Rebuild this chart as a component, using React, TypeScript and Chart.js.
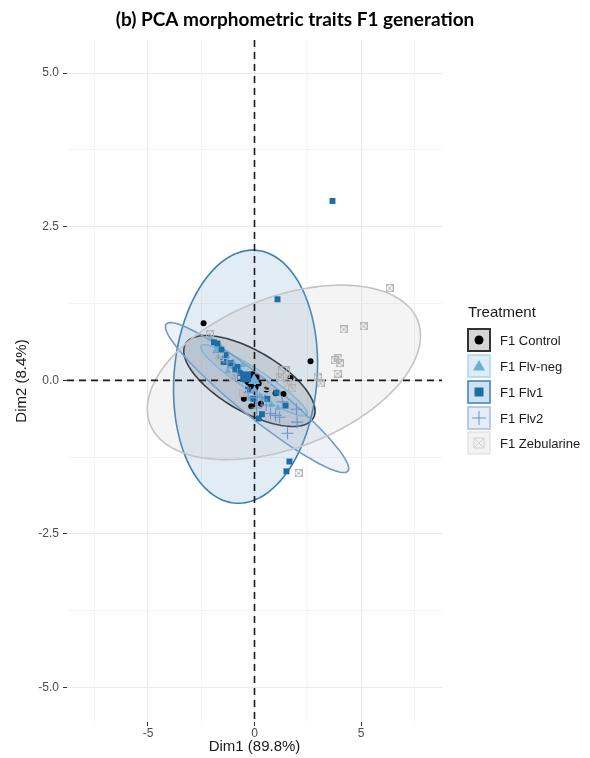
import React, { useEffect, useRef } from "react";
import { Chart, registerables } from "chart.js";

Chart.register(...registerables);

// ---- data -------------------------------------------------------------
const groupNames = ["F1 Control", "F1 Flv-neg", "F1 Flv1", "F1 Flv2", "F1 Zebularine"];

const controlPts = [
  [-2.39, 0.93], [2.63, 0.31], [1.69, 0.04], [1.36, -0.22], [0.99, -0.21], [0.55, -0.15],
  [0.3, -0.38], [-0.15, -0.42], [-0.5, -0.3], [-0.05, 0.02], [-0.15, -0.1], [0.05, -0.12],
  [-0.3, 0.05], [0.2, -0.05], [-0.1, 0.1], [0.1, 0.05],
];
const flvNegPts = [
  [-2.05, 0.68], [-1.8, 0.5], [-1.6, 0.55], [-1.5, 0.35], [-1.3, 0.4], [-1.15, 0.22],
  [-1.0, 0.3], [-0.85, 0.1], [-0.65, 0.15], [-0.45, -0.02], [-0.3, 0.08], [0.0, -0.15],
  [0.25, -0.25], [0.5, -0.28], [0.8, -0.4], [1.1, -0.45], [-0.2, -0.3], [-1.25, 0.15],
  [-0.95, 0.05], [-1.7, 0.38], [-0.55, 0.25],
];
const flv1Pts = [
  [3.66, 2.92], [1.08, 1.32], [1.64, -1.32], [1.5, -1.48], [1.46, -0.41], [1.03, -0.2],
  [0.35, -0.55], [0.2, -0.62], [-1.74, 0.6], [-1.36, 0.41], [-1.13, 0.28], [-0.9, 0.18],
  [-0.7, 0.12], [-0.3, -0.15], [0.6, -0.3], [-1.55, 0.5], [-0.05, -0.3], [-1.9, 0.62],
  [-1.45, 0.3], [-0.8, 0.22],
];
const flv2Pts = [
  [1.97, -0.47], [2.0, -0.68], [1.55, -0.86], [0.99, -0.57], [1.18, -0.6], [0.75, -0.54],
  [0.55, -0.4], [0.35, -0.32], [-0.3, -0.2], [-0.8, 0.1], [-1.25, 0.3], [-1.7, 0.45],
  [0.1, -0.45], [1.3, -0.35],
];
const zebPts = [
  [6.34, 1.5], [5.12, 0.88], [4.18, 0.83], [3.94, 0.36], [3.76, 0.33], [3.99, 0.28],
  [3.9, 0.11], [2.96, 0.05], [3.1, -0.05], [1.78, -0.13], [2.07, -1.51], [1.55, -0.05],
  [-2.1, 0.75], [-1.0, 0.05], [0.6, -0.1], [1.2, 0.05], [-0.55, -0.2], [-1.6, 0.38],
];

// group centroids (also ellipse centres)
const centroidX = [-0.24, -0.02, -0.42, 0.12, 1.38];
const centroidY = [-0.01, 0.0, 0.06, -0.28, 0.13];
// ellipse half-extents along Dim1 / Dim2 and correlation
const ellipseWx = [3.08, 2.5, 3.38, 4.3, 6.41];
const ellipseWy = [0.74, 0.58, 2.06, 1.22, 1.42];
const ellipseRho = [-0.66, -0.93, 0.1, -0.945, 0.42];

// axes
const xRange = [-8.8, 8.8];
const yRange = [-5.56, 5.54];
const xStep = 2.5;
const yStep = 1.25;
const xLabelEvery = 5;
const yLabelEvery = 2.5;

const titleText = "(b) PCA morphometric traits F1 generation";
const xTitle = "Dim1 (89.8%)";
const yTitle = "Dim2 (8.4%)";
const legendTitle = "Treatment";

// ---- styles -----------------------------------------------------------
const pointColors = ["#000000", "#6baed6", "#1c6ca6", "#6f93c6", "#b8b8b8"];
const lineColors = ["#1a1a1a", "#8fc0e0", "#3a80b3", "#6f9bc8", "#c4c4c4"];
const fillColors = [
  "rgba(0,0,0,0.13)",
  "rgba(107,174,214,0.15)",
  "rgba(43,123,186,0.14)",
  "rgba(117,150,200,0.12)",
  "rgba(189,189,189,0.16)",
];
const keyFill = ["#d6d6d6", "#ddecf7", "#d0e2f0", "#e4edf8", "#f2f2f2"];
const keyBorder = ["#333333", "#b0d3ea", "#3a80b3", "#a3bde0", "#e4e4e4"];
const FONT = "'Liberation Sans', Arial, sans-serif";

function makeZebMarker(size: number, color: string) {
  const c = document.createElement("canvas");
  c.width = size;
  c.height = size;
  const g = c.getContext("2d")!;
  g.strokeStyle = color;
  g.lineWidth = 1;
  g.strokeRect(0.5, 0.5, size - 1, size - 1);
  g.beginPath();
  g.moveTo(0.5, 0.5);
  g.lineTo(size - 0.5, size - 0.5);
  g.moveTo(size - 0.5, 0.5);
  g.lineTo(0.5, size - 0.5);
  g.stroke();
  return c;
}

function isMultiple(v: number, m: number) {
  return Math.abs(v / m - Math.round(v / m)) < 1e-6;
}

const ellipsePlugin = {
  id: "ellipses",
  beforeDatasetsDraw(chart: any) {
    const { ctx, scales, chartArea } = chart;
    const xs = scales.x;
    const ys = scales.y;
    ctx.save();
    for (let g = 0; g < groupNames.length; g++) {
      const r = ellipseRho[g];
      const s = Math.sqrt(1 - r * r);
      ctx.beginPath();
      const n = 160;
      for (let i = 0; i <= n; i++) {
        const t = (i / n) * Math.PI * 2;
        const dx = centroidX[g] + ellipseWx[g] * Math.cos(t);
        const dy = centroidY[g] + ellipseWy[g] * (r * Math.cos(t) + s * Math.sin(t));
        const px = xs.getPixelForValue(dx);
        const py = ys.getPixelForValue(dy);
        if (i === 0) ctx.moveTo(px, py);
        else ctx.lineTo(px, py);
      }
      ctx.closePath();
      ctx.fillStyle = fillColors[g];
      ctx.fill();
      ctx.strokeStyle = lineColors[g];
      ctx.lineWidth = 1.6;
      ctx.stroke();
    }
    // dashed zero lines
    ctx.strokeStyle = "#1a1a1a";
    ctx.lineWidth = 1.6;
    ctx.setLineDash([7, 5]);
    const x0 = xs.getPixelForValue(0);
    const y0 = ys.getPixelForValue(0);
    ctx.beginPath();
    ctx.moveTo(x0, chartArea.top);
    ctx.lineTo(x0, chartArea.bottom);
    ctx.moveTo(chartArea.left, y0);
    ctx.lineTo(chartArea.right, y0);
    ctx.stroke();
    ctx.restore();
  },
};

function drawMarker(ctx: CanvasRenderingContext2D, g: number, x: number, y: number) {
  ctx.save();
  ctx.fillStyle = pointColors[g];
  ctx.strokeStyle = pointColors[g];
  ctx.lineWidth = 1;
  if (g === 0) {
    ctx.beginPath();
    ctx.arc(x, y, 4.5, 0, Math.PI * 2);
    ctx.fill();
  } else if (g === 1) {
    ctx.beginPath();
    ctx.moveTo(x, y - 6);
    ctx.lineTo(x + 6, y + 4.5);
    ctx.lineTo(x - 6, y + 4.5);
    ctx.closePath();
    ctx.fill();
  } else if (g === 2) {
    ctx.fillRect(x - 4.5, y - 4.5, 9, 9);
  } else if (g === 3) {
    ctx.beginPath();
    ctx.moveTo(x - 7, y);
    ctx.lineTo(x + 7, y);
    ctx.moveTo(x, y - 7);
    ctx.lineTo(x, y + 7);
    ctx.stroke();
  } else {
    ctx.strokeStyle = "#d0d0d0";
    ctx.strokeRect(x - 5, y - 5, 10, 10);
    ctx.beginPath();
    ctx.moveTo(x - 5, y - 5);
    ctx.lineTo(x + 5, y + 5);
    ctx.moveTo(x + 5, y - 5);
    ctx.lineTo(x - 5, y + 5);
    ctx.stroke();
  }
  ctx.restore();
}

const legendPlugin = {
  id: "customLegend",
  afterDraw(chart: any) {
    const { ctx, chartArea } = chart;
    const left = chartArea.right + 26;
    ctx.save();
    ctx.fillStyle = "#1a1a1a";
    ctx.font = `15px ${FONT}`;
    ctx.textBaseline = "middle";
    ctx.textAlign = "left";
    ctx.fillText(legendTitle, left, 313);
    const rowY = [340, 366, 392, 418, 443];
    for (let g = 0; g < groupNames.length; g++) {
      const cy = rowY[g];
      const bx = left;
      const by = cy - 11;
      ctx.fillStyle = keyFill[g];
      ctx.fillRect(bx, by, 22, 22);
      ctx.strokeStyle = keyBorder[g];
      ctx.lineWidth = g === 0 ? 2 : 1.5;
      ctx.strokeRect(bx, by, 22, 22);
      drawMarker(ctx, g, bx + 11, cy);
      ctx.fillStyle = "#1a1a1a";
      ctx.font = `13px ${FONT}`;
      ctx.fillText(groupNames[g], left + 32, cy + 1);
    }
    ctx.restore();
  },
};

export default function App() {
  const ref = useRef<HTMLCanvasElement | null>(null);

  useEffect(() => {
    if (!ref.current) return;
    const zebSmall = makeZebMarker(8, "#b5b5b5");
    const zebBig = makeZebMarker(12, "#a8a8a8");
    const groupPts = [controlPts, flvNegPts, flv1Pts, flv2Pts, zebPts];
    const styles: any[] = ["circle", "triangle", "rect", "cross", zebSmall];
    const bigStyles: any[] = ["circle", "triangle", "rect", "cross", zebBig];
    const radii = [3, 4, 4.2, 6, 4];
    const bigRadii = [5, 7, 7.5, 8, 6];

    const datasets: any[] = [];
    groupPts.forEach((pts, g) => {
      datasets.push({
        label: groupNames[g],
        data: pts.map(([x, y]) => ({ x, y })),
        pointStyle: styles[g],
        pointRadius: radii[g],
        backgroundColor: pointColors[g],
        borderColor: pointColors[g],
        borderWidth: g === 3 ? 1.1 : 0,
        order: 100 - g,
      });
    });
    groupNames.forEach((name, g) => {
      datasets.push({
        label: name + " mean",
        data: [{ x: centroidX[g], y: centroidY[g] }],
        pointStyle: bigStyles[g],
        pointRadius: bigRadii[g],
        backgroundColor: pointColors[g],
        borderColor: pointColors[g],
        borderWidth: g === 3 ? 1.2 : 0,
        order: 50 - g,
      });
    });

    const tickFont = { family: FONT, size: 12 };
    const titleFont = { family: FONT, size: 15 };

    const chart = new Chart(ref.current, {
      type: "scatter",
      data: { datasets },
      plugins: [ellipsePlugin, legendPlugin],
      options: {
        responsive: false,
        animation: false,
        events: [],
        layout: { padding: 0 },
        plugins: {
          legend: { display: false },
          tooltip: { enabled: false },
          title: {
            display: true,
            text: titleText,
            color: "#000000",
            font: { family: "Lato, 'Open Sans', sans-serif", size: 19, weight: "bold" },
            padding: { top: 8, bottom: 9.2 },
          },
        },
        scales: {
          x: {
            type: "linear",
            min: xRange[0],
            max: xRange[1],
            border: { display: false },
            grid: {
              color: (c: any) => (isMultiple(c.tick?.value ?? 0, xLabelEvery) ? "#e9e9e9" : "#f4f4f4"),
              tickColor: (c: any) => (isMultiple(c.tick?.value ?? 0, xLabelEvery) ? "#333333" : "rgba(0,0,0,0)"),
              tickLength: 4,
              lineWidth: 1,
            },
            ticks: {
              stepSize: xStep,
              includeBounds: false,
              autoSkip: false,
              maxRotation: 0,
              color: "#4d4d4d",
              font: tickFont,
              padding: 0,
              callback: (v: any) => (isMultiple(Number(v), xLabelEvery) ? String(Math.round(Number(v))) : ""),
            },
            title: {
              display: true,
              text: xTitle,
              color: "#1a1a1a",
              font: titleFont,
              padding: { top: 0, bottom: 2 },
            },
            afterFit: (s: any) => {
              s.height = 36;
            },
          },
          y: {
            type: "linear",
            min: yRange[0],
            max: yRange[1],
            border: { display: false },
            grid: {
              color: (c: any) => (isMultiple(c.tick?.value ?? 0, yLabelEvery) ? "#e9e9e9" : "#f4f4f4"),
              tickColor: (c: any) => (isMultiple(c.tick?.value ?? 0, yLabelEvery) ? "#333333" : "rgba(0,0,0,0)"),
              tickLength: 4,
              lineWidth: 1,
            },
            ticks: {
              stepSize: yStep,
              includeBounds: false,
              autoSkip: false,
              color: "#4d4d4d",
              font: tickFont,
              padding: 4,
              callback: (v: any) => (isMultiple(Number(v), yLabelEvery) ? Number(v).toFixed(1) : ""),
            },
            title: {
              display: true,
              text: yTitle,
              color: "#1a1a1a",
              font: titleFont,
              padding: { top: 13, bottom: 0 },
            },
            afterFit: (s: any) => {
              s.width = 67;
            },
          },
          legendSpace: {
            type: "linear",
            position: "right",
            display: true,
            grid: { display: false, drawTicks: false },
            border: { display: false },
            ticks: { display: false },
            afterFit: (s: any) => {
              s.width = 148;
            },
          },
        },
      },
    } as any);
    return () => chart.destroy();
  }, []);

  return (
    <div style={{ position: "absolute", left: 0, top: 0, width: 590, height: 758, background: "#ffffff" }}>
      <canvas ref={ref} width={590} height={758} style={{ display: "block", width: 590, height: 758 }} />
    </div>
  );
}
